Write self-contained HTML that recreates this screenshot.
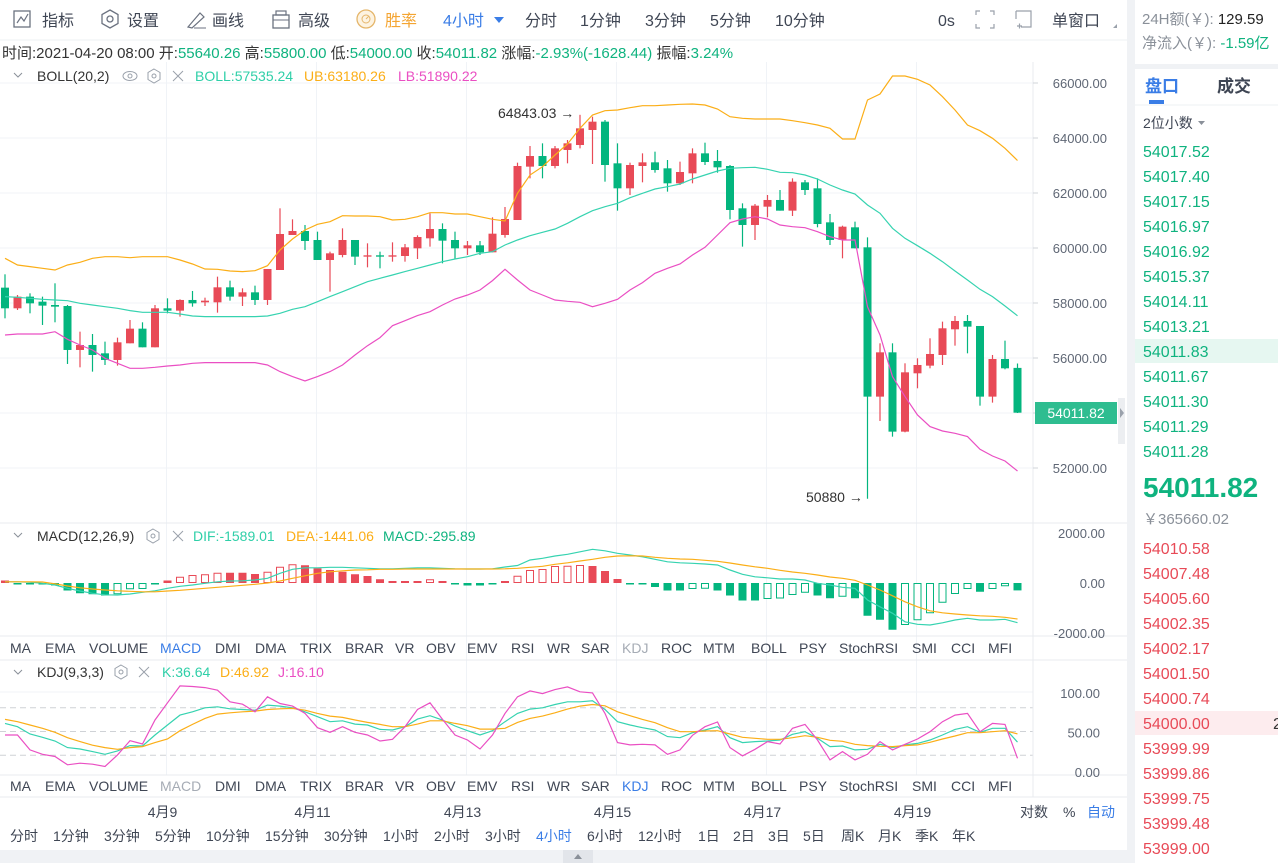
<!DOCTYPE html>
<html><head><meta charset="utf-8">
<style>
html,body{margin:0;padding:0;background:#fff;width:1278px;height:863px;overflow:hidden}
svg{display:block;font-family:"Liberation Sans","Noto Sans CJK SC",sans-serif}
</style></head>
<body>
<svg id="root" width="1278" height="863" viewBox="0 0 1278 863" xmlns="http://www.w3.org/2000/svg">
<rect x="0" y="0" width="1278" height="863" fill="#fff"/>
<!-- toolbar -->
<g font-size="16" fill="#3f4654">
  <g><rect x="14" y="11" width="16" height="16" fill="none" stroke="#6b7280" stroke-width="1.3"/><polyline points="17,23 21,17 24,21 28,14" fill="none" stroke="#6b7280" stroke-width="1.2"/><text x="42" y="26">指标</text></g>
  <g><polygon points="110,10 118,14.5 118,23.5 110,28 102,23.5 102,14.5" fill="none" stroke="#6b7280" stroke-width="1.3"/><circle cx="110" cy="19" r="3" fill="none" stroke="#6b7280" stroke-width="1.3"/><text x="127" y="26">设置</text></g>
  <g><path d="M188 27 L200 13 L204 17 L192 28 Z" fill="none" stroke="#6b7280" stroke-width="1.2"/><line x1="194" y1="28" x2="206" y2="28" stroke="#6b7280"/><text x="212" y="26">画线</text></g>
  <g><rect x="273" y="15" width="16" height="13" fill="none" stroke="#6b7280" stroke-width="1.3"/><rect x="276" y="11" width="10" height="4" fill="none" stroke="#6b7280" stroke-width="1.2"/><line x1="273" y1="20" x2="289" y2="20" stroke="#6b7280"/><text x="298" y="26">高级</text></g>
  <g><circle cx="366" cy="19" r="9" fill="#fdf3e1" stroke="#e5b66b" stroke-width="1.3"/><circle cx="366" cy="19" r="4" fill="none" stroke="#e5b66b"/><line x1="366" y1="19" x2="369" y2="16" stroke="#e5b66b"/><text x="385" y="26" fill="#f4a532">胜率</text></g>
  <g><text x="443" y="26" fill="#3a7de6">4小时</text><polygon points="494,17 504,17 499,23" fill="#3a7de6"/></g>
  <text x="525" y="26">分时</text>
  <text x="580" y="26">1分钟</text>
  <text x="645" y="26">3分钟</text>
  <text x="710" y="26">5分钟</text>
  <text x="775" y="26">10分钟</text>
  <text x="938" y="26">0s</text>
  <g stroke="#9aa1ab" stroke-width="1.2" fill="none"><path d="M976 15v-4h4M990 11h4v4M994 24v4h-4M980 28h-4v-4"/></g>
  <g stroke="#9aa1ab" stroke-width="1.2" fill="none"><path d="M1016 11h15v16h-10M1016 11v8"/><path d="M1017 26h5M1019.5 23.5v5"/></g>
  <g><text x="1052" y="26">单窗口</text><polygon points="1117,24 1117,28 1113,28" fill="#9aa1ab"/></g>
</g>
<line x1="0" y1="40" x2="1127" y2="40" stroke="#eef0f3"/>
<!-- info line -->
<text x="2" y="58" font-size="15" fill="#333">时间:2021-04-20 08:00 开:<tspan fill="#0fb37f">55640.26</tspan> 高:<tspan fill="#0fb37f">55800.00</tspan> 低:<tspan fill="#0fb37f">54000.00</tspan> 收:<tspan fill="#0fb37f">54011.82</tspan> 涨幅:<tspan fill="#0fb37f">-2.93%(-1628.44)</tspan> 振幅:<tspan fill="#0fb37f">3.24%</tspan></text>
<g id="grid"></g>
<g id="main"></g>
<g id="macd"></g>
<g id="kdj"></g>
<g id="axes"></g>
<!-- legends -->
<g font-size="14">
  <polyline points="14,73 18,77 22,73" fill="none" stroke="#8a9099"/>
  <text x="37" y="81" fill="#333">BOLL(20,2)</text>
  <g><ellipse cx="130" cy="76" rx="7" ry="4.5" fill="none" stroke="#9aa1ab"/><circle cx="130" cy="76" r="2" fill="none" stroke="#9aa1ab"/></g>
  <g><polygon points="154,69 160,72.5 160,79.5 154,83 148,79.5 148,72.5" fill="none" stroke="#9aa1ab"/><circle cx="154" cy="76" r="2" fill="none" stroke="#9aa1ab"/></g>
  <path d="M173 71l10 10M183 71l-10 10" stroke="#9aa1ab"/>
  <text x="195" y="81" fill="#2fcfa8">BOLL:57535.24</text>
  <text x="304" y="81" fill="#fbae17">UB:63180.26</text>
  <text x="398" y="81" fill="#ea4fc3">LB:51890.22</text>
</g>
<g font-size="14">
  <polyline points="14,533 18,537 22,533" fill="none" stroke="#8a9099"/>
  <text x="37" y="541" fill="#333">MACD(12,26,9)</text>
  <g><polygon points="153,529 159,532.5 159,539.5 153,543 147,539.5 147,532.5" fill="none" stroke="#9aa1ab"/><circle cx="153" cy="536" r="2" fill="none" stroke="#9aa1ab"/></g>
  <path d="M173 531l10 10M183 531l-10 10" stroke="#9aa1ab"/>
  <text x="193" y="541" fill="#2fcfa8">DIF:-1589.01</text>
  <text x="286" y="541" fill="#fbae17">DEA:-1441.06</text>
  <text x="383" y="541" fill="#0fb37f">MACD:-295.89</text>
</g>
<g font-size="14">
  <polyline points="14,670 18,674 22,670" fill="none" stroke="#8a9099"/>
  <text x="37" y="677" fill="#333">KDJ(9,3,3)</text>
  <g><polygon points="121,665 127,668.5 127,675.5 121,679 115,675.5 115,668.5" fill="none" stroke="#9aa1ab"/><circle cx="121" cy="672" r="2" fill="none" stroke="#9aa1ab"/></g>
  <path d="M139 667l10 10M149 667l-10 10" stroke="#9aa1ab"/>
  <text x="162" y="677" fill="#2fcfa8">K:36.64</text>
  <text x="220" y="677" fill="#fbae17">D:46.92</text>
  <text x="278" y="677" fill="#ea4fc3">J:16.10</text>
</g>
<g id="tabs1" font-size="14" fill="#3f4654"></g>
<g id="tabs2" font-size="14" fill="#3f4654"></g>
<g id="dates" font-size="14" fill="#3f4654"></g>
<g id="periods" font-size="14" fill="#3f4654"></g>
<g font-size="14">
  <text x="1020" y="817" fill="#3f4654">对数</text>
  <text x="1063" y="817" fill="#3f4654">%</text>
  <text x="1087" y="817" fill="#3a7de6">自动</text>
</g>
<rect x="0" y="850" width="1127" height="13" fill="#f0f2f5"/>
<rect x="563" y="850" width="30" height="13" fill="#e2e5ea"/>
<polygon points="574,859 582,859 578,854" fill="#8a9099"/>
<!-- right panel -->
<rect x="1127" y="0" width="8" height="863" fill="#f0f2f5"/>
<g>
  <text x="1142" y="24" font-size="15" fill="#8a9099">24H额(￥): <tspan fill="#222">129.59</tspan></text>
  <text x="1142" y="48" font-size="15" fill="#8a9099">净流入(￥): <tspan fill="#0fb37f">-1.59亿</tspan></text>
  <rect x="1135" y="64" width="143" height="5" fill="#f0f2f5"/>
  <text x="1145" y="92" font-size="17" font-weight="bold" fill="#3a7de6">盘口</text>
  <rect x="1149" y="100" width="15" height="4" fill="#3a7de6"/>
  <text x="1217" y="92" font-size="17" font-weight="bold" fill="#3f4654">成交</text>
  <line x1="1135" y1="105" x2="1278" y2="105" stroke="#eef0f3"/>
  <text x="1143" y="128" font-size="14" fill="#3f4654">2位小数</text>
  <polygon points="1198,121 1205,121 1201.5,125" fill="#8a9099"/>
  <g id="asks" font-size="16" fill="#0fb37f"></g>
  <text x="1143" y="497" font-size="28" font-weight="bold" fill="#0fb37f">54011.82</text>
  <text x="1143" y="524" font-size="15" fill="#8a9099">￥365660.02</text>
  <g id="bids" font-size="16" fill="#e84a57"></g>
</g>
<!-- annotations -->
<text x="498" y="118" font-size="14" fill="#333">64843.03 →</text>
<text x="806" y="502" font-size="14" fill="#333">50880 →</text>
</svg>
<script>
const open=[58558,57807,58231,58049,57928,57891,56292,56473,56170,55928,56534,57067,56389,57807,57722,58110,58025,58025,58570,58231,58388,58110,59200,60473,60618,60291,59564,59746,60291,59685,59734,59685,59709,59988,60352,60691,60291,59988,60097,59843,60473,61018,62958,63345,62982,63564,63745,64291,64594,63079,62170,62982,63115,62897,62352,62715,63442,63164,62982,61443,60837,61503,61746,61358,62388,62170,60933,60291,60752,60025,54595,56206,53322,55443,55722,56110,57043,57346,57164,54595,55964,55640.26];
const close=[57807,58231,57988,57904,57867,56292,56473,56110,55928,56570,57067,56389,57807,57722,58110,57988,58085,58570,58231,58388,58110,59237,60509,60618,60255,59564,59806,60291,59685,59734,59685,59734,60025,60400,60691,60267,59988,60097,59843,60521,61055,62982,63345,62982,63624,63806,64351,64594,63018,62170,63018,63115,62836,62352,62764,63442,63127,62933,61382,60837,61540,61746,61358,62412,62109,60873,60291,60776,59988,54595,56206,53322,55479,55746,56146,57080,57346,57140,54595,55964,55625,54011.82];
const high=[59043,58291,58352,58231,58716,57928,56958,56873,56595,56740,57382,57298,57928,58170,58134,58437,58194,58958,58813,58534,58631,59237,61443,61043,60837,60594,59867,60715,60291,60170,59867,60206,60146,60461,61261,60897,60594,60255,60255,61115,61491,63103,63709,63806,63709,63927,64843.03,64776,64654,63806,63103,63442,63503,63200,63140,63624,63830,63564,63018,61624,61600,61927,62109,62533,62473,62533,61237,60812,60958,60388,56534,56534,55807,55989,56716,57322,57528,57564,57164,56110,56631,55800];
const low=[57443,57746,57625,57201,57298,55783,55661,55504,55746,55722,56534,56389,56389,57625,57504,57867,57891,57649,58085,57891,57928,57928,59200,60473,59928,59564,58413,59661,59382,59297,59261,59503,59503,59600,60049,59443,59600,59746,59746,59843,60376,61018,62533,62533,62897,63079,63624,63055,62412,61358,61927,62388,62739,62049,62291,62352,63018,62739,61043,60049,60291,61115,61358,61164,61927,60752,60109,59625,59988,50880,53710,53140,53298,54898,55625,55746,56449,56170,54267,54377,55589,54000];
const bollUp=[59625,59382,59322,59261,59200,59382,59479,59625,59685,59685,59649,59685,59685,59685,59564,59419,59237,59225,59164,59140,59176,59358,59928,60328,60655,60861,60958,61176,61164,61164,61140,61018,61043,61140,61285,61285,61237,61237,61140,61043,60982,61988,62655,62958,63382,63782,64351,64836,64994,65018,65103,65176,65176,65200,65224,65236,65200,65054,64776,64715,64691,64691,64691,64630,64557,64473,64351,63964,63964,65382,65600,66254,66254,66133,65927,65503,65018,64473,64267,63988,63624,63180.26];
const bollMid=[58231,58207,58170,58134,58110,58085,57988,57928,57867,57807,57722,57661,57661,57661,57601,57528,57504,57504,57504,57504,57504,57528,57625,57770,57867,58049,58231,58412,58594,58776,58897,59019,59140,59261,59382,59503,59600,59685,59806,59867,60110,60291,60449,60570,60691,60897,61140,61358,61503,61624,61830,61988,62146,62230,62327,62509,62655,62800,62897,62921,62933,62861,62751,62739,62655,62509,62291,62109,61964,61564,61261,60715,60352,60085,59806,59503,59164,58837,58497,58231,57891,57535.24];
const bollLow=[56837,56873,56873,56873,56958,56679,56473,56292,55989,55807,55625,55625,55661,55710,55746,55807,55831,55831,55831,55831,55831,55746,55504,55322,55164,55322,55504,55746,56110,56449,56740,57176,57358,57540,57685,57928,58146,58291,58473,58813,59225,58837,58473,58291,58110,58061,58025,57867,57988,58134,58473,58740,59079,59261,59419,59746,60025,60473,60921,61055,61140,61055,60837,60776,60740,60594,60412,60291,60291,57867,56837,55322,54595,53928,53504,53346,53261,53140,52680,52437,52255,51890.22];
const macdHist=[100,-50,-60,-60,-100,-300,-410,-450,-500,-450,-250,-240,-50,100,250,320,350,410,410,410,360,450,650,750,710,590,520,450,350,280,150,80,80,80,150,80,-60,-100,-100,-60,80,290,520,560,680,690,720,680,480,160,-40,-60,-160,-300,-300,-240,-230,-300,-500,-700,-700,-640,-620,-480,-390,-500,-610,-550,-610,-1310,-1470,-1870,-1680,-1490,-1210,-790,-440,-240,-350,-240,-130,-295.89];
const macdDif=[50,50,30,-10,-80,-210,-320,-410,-470,-480,-440,-370,-310,-210,-130,-80,-10,50,80,90,120,190,390,550,610,610,630,630,610,590,570,570,590,610,610,590,570,560,560,570,640,700,920,990,1080,1150,1250,1350,1290,1190,1120,1050,950,850,810,790,760,720,520,350,250,210,160,160,120,-10,-80,-170,-210,-680,-950,-1210,-1550,-1650,-1680,-1590,-1480,-1410,-1480,-1480,-1450,-1589.01];
const macdDea=[50,50,50,40,-30,-120,-190,-240,-280,-310,-330,-350,-350,-320,-290,-250,-210,-170,-130,-90,-50,0,80,190,290,390,450,490,520,530,550,550,560,560,560,560,560,560,560,560,570,590,630,670,750,810,880,950,1030,1080,1090,1080,1030,990,960,950,910,870,800,720,650,590,510,440,390,320,240,190,110,-80,-280,-510,-750,-950,-1110,-1190,-1240,-1280,-1310,-1330,-1370,-1441.06];
const kdjK=[60.3,56.1,46.8,42.6,38,29.6,27.9,24.6,21.2,25.4,32.1,31.7,45.6,58.2,70.8,75,80,81.3,78.7,77.9,77,83.4,82.1,80,75,68.7,62.4,63.6,59.4,58.2,52.7,51.9,56.1,65.7,70,64.5,56.9,51,45.6,51,62.4,72.9,78.3,80,84.2,87.6,87.6,88.8,77.9,62.4,58.2,54.8,51.9,43.5,42.2,48.5,51.9,56.1,42.2,35.9,37.2,38,39.3,46.4,49.8,41.4,30.9,31.7,26.7,27.5,33.8,29.6,33,35,39.3,45.6,52.7,56.1,49,54,54,36.64];
const kdjD=[65.3,62.4,58.2,54,49,42.2,37.2,32.6,29.6,27.5,29.6,30.9,35.9,40.5,51,59,66.6,72,73.7,75,75.8,77.9,78.7,79.2,77,72.9,69.5,67.8,64.5,61.5,59,56.1,56.1,59.4,63.6,63.6,60.3,57.3,53.1,53.1,54,61.5,66.6,69.5,73.7,78.3,82.1,84.2,82.5,75,70,65.3,61.1,54.8,49.8,49.8,50.6,51,46.8,42.6,41.4,40.1,40.1,42.2,44.7,42.6,38.8,37.6,33.8,32.1,31.3,30.9,32.1,33,36.3,40.5,44.3,48.5,48.5,49.8,51,46.92];
const kdjJ=[45.6,45.6,26.7,21.2,18.3,7.8,9.9,8.6,5.7,20.4,38.4,34.2,64.5,86.3,107.7,106.9,105.6,102.3,87.6,84.6,75,93.9,85.5,82.1,72.9,54.8,49,56.1,49,45.6,38,40.1,56.1,77.9,86.3,65.3,45.6,39.3,27.9,45.6,72.9,93.9,101.4,98,103,106.5,100.2,98.9,72.9,35.9,33,33.8,33,21.2,26.7,45.2,56.1,62,29.6,19.1,27.5,37.2,34.2,54,59,39.3,14.1,24.6,14.1,21.2,37.2,26.7,33.8,40.5,49.8,62.4,70.8,72.9,49.8,60.3,59,16.1];
const priceTicks=[66000,64000,62000,60000,58000,56000,54000,52000];
const macdTicks=[2000,0,-2000];
const kdjTicks=[100,50,0];
const kdjLevels=[80,50,20];
const dateLabels=["4月9","4月11","4月13","4月15","4月17","4月19"];
const dateIndex=[13,25,37,49,61,73];
const askPrices=["54017.52","54017.40","54017.15","54016.97","54016.92","54015.37","54014.11","54013.21","54011.83","54011.67","54011.30","54011.29","54011.28"];
const bidPrices=["54010.58","54007.48","54005.60","54002.35","54002.17","54001.50","54000.74","54000.00","53999.99","53999.86","53999.75","53999.48","53999.00"];
const tabNames=["MA","EMA","VOLUME","MACD","DMI","DMA","TRIX","BRAR","VR","OBV","EMV","RSI","WR","SAR","KDJ","ROC","MTM","BOLL","PSY","StochRSI","SMI","CCI","MFI"];
const periodNames=["分时","1分钟","3分钟","5分钟","10分钟","15分钟","30分钟","1小时","2小时","3小时","4小时","6小时","12小时","1日","2日","3日","5日","周K","月K","季K","年K"];

const NS="http://www.w3.org/2000/svg";
const UP="#e84a57", DN="#03b57e", TEAL="#36d3b0", ORG="#fbae17", PINK="#ea4fc3";
function mk(tag,attrs,parent){const e=document.createElementNS(NS,tag);for(const k in attrs)e.setAttribute(k,attrs[k]);parent.appendChild(e);return e;}
const xC=i=>5+12.5*i;
const yP=p=>83+(66000-p)*0.0275;
const yM=v=>583-v*0.025;
const yK=v=>771-v*0.79;

const grid=document.getElementById('grid');
const axes=document.getElementById('axes');
priceTicks.forEach(p=>{
  const l=mk('line',{x1:0,x2:1033,y1:yP(p),y2:yP(p),stroke:'#f0f3f7'},grid);
  
  
  const t=mk('text',{x:1107,y:yP(p)+5,'text-anchor':'end','font-size':13,fill:'#5f6775'},axes);
  t.textContent=p.toFixed(2);
  
  
});
macdTicks.forEach(v=>{
  const t=mk('text',{x:1105,y:yM(v)+5,'text-anchor':'end','font-size':13,fill:'#5f6775'},axes);
  t.textContent=v.toFixed(2);
  
  
});
kdjTicks.forEach(v=>{
  const t=mk('text',{x:1100,y:yK(v)+6,'text-anchor':'end','font-size':13,fill:'#5f6775'},axes);
  t.textContent=v.toFixed(2);
  
  
});
kdjLevels.forEach(v=>{
  const l=mk('line',{x1:0,x2:1033,y1:yK(v),y2:yK(v),stroke:'#cfd2d6','stroke-dasharray':'6,4'},grid);
  
  
});
mk('line',{x1:0,x2:1033,y1:yK(100),y2:yK(100),stroke:'#f0f3f7'},grid);
const dates=document.getElementById('dates');
dateIndex.forEach((di,k)=>{
  const x=xC(di)-1;
  const l=mk('line',{x1:x,x2:x,y1:62,y2:775,stroke:'#f0f3f7'},grid);
  
  
  const t=mk('text',{x:x-4,y:817,'text-anchor':'middle'},dates);
  t.textContent=dateLabels[k];
  
  
});
[523,636,660,775,797].forEach(y=>mk('line',{x1:0,x2:1127,y1:y,y2:y,stroke:'#e8ebef'},grid));
mk('line',{x1:1033,x2:1033,y1:62,y2:797,stroke:'#e8ebef'},grid);
priceTicks.forEach(p=>mk('line',{x1:1033,x2:1038,y1:yP(p),y2:yP(p),stroke:'#d0d4da'},grid));

const main=document.getElementById('main');
for(let i=0;i<open.length;i++){
  const up=close[i]>=open[i], c=up?UP:DN, x=xC(i);
  const w=mk('line',{x1:x,x2:x,y1:yP(high[i]),y2:yP(low[i]),stroke:c,'stroke-width':1.2},main);
  
  
  const t=Math.min(yP(open[i]),yP(close[i])), h=Math.max(1,Math.abs(yP(open[i])-yP(close[i])));
  const b=mk('rect',{x:x-4,y:t,width:8,height:h,fill:c},main);
  
  
}
function line(arr,yf,color,parent,name){
  const pts=arr.map((v,i)=>xC(i)+','+yf(v).toFixed(1)).join(' ');
  const p=mk('polyline',{points:pts,fill:'none',stroke:color,'stroke-width':1.2},parent);
  
  
}
line(bollUp,yP,ORG,main,'boll-upper-band');
line(bollMid,yP,TEAL,main,'boll-middle-band');
line(bollLow,yP,PINK,main,'boll-lower-band');
const tag=mk('rect',{x:1035,y:402,width:82,height:22,fill:'#2ebd90'},axes);


const tt=mk('text',{x:1076,y:418,'text-anchor':'middle','font-size':14,fill:'#fff'},axes);
tt.textContent='54011.82';
mk('rect',{x:1118,y:398,width:7,height:46,fill:'#eceef1'},axes);
mk('polygon',{points:'1120,408 1124,413 1120,418',fill:'#9aa1ab'},axes);

const macd=document.getElementById('macd');
for(let i=0;i<macdHist.length;i++){
  const v=macdHist[i], prev=i>0?macdHist[i-1]:v, c=v>=0?UP:DN, x=xC(i);
  const t=Math.min(yM(0),yM(v)), h=Math.max(1.5,Math.abs(yM(v)-yM(0)));
  const hollow=i>0&&v>prev&&h>3;
  const r=hollow?mk('rect',{x:x-3.5,y:t+0.5,width:7,height:h-1,fill:'#fff',stroke:c,'stroke-width':1},macd)
               :mk('rect',{x:x-4,y:t,width:8,height:h,fill:c},macd);
  
  
}
line(macdDif,yM,TEAL,macd,'macd-dif-line');
line(macdDea,yM,ORG,macd,'macd-dea-line');

const kdj=document.getElementById('kdj');
line(kdjK,yK,TEAL,kdj,'kdj-k-line');
line(kdjD,yK,ORG,kdj,'kdj-d-line');
line(kdjJ,yK,PINK,kdj,'kdj-j-line');

const tabX=[10,45,89,160,215,255,300,345,395,426,467,511,547,581,622,661,703,751,799,839,912,951,988];
function tabs(id,y,active,dim){
  const g=document.getElementById(id);
  tabNames.forEach((n,k)=>{
    const t=mk('text',{x:tabX[k],y:y},g);
    if(n===active)t.setAttribute('fill','#3a7de6');
    if(n===dim)t.setAttribute('fill','#a6acb5');
    t.textContent=n;
    
    
  });
}
tabs('tabs1',653,'MACD','KDJ');
tabs('tabs2',791,'KDJ','MACD');
const perX=[10,53,104,155,206,265,324,383,434,485,536,587,638,698,733,768,803,841,878,915,952];
const per=document.getElementById('periods');
periodNames.forEach((n,k)=>{
  const t=mk('text',{x:perX[k],y:841},per);
  if(n==='4小时')t.setAttribute('fill','#3a7de6');
  t.textContent=n;
  
  
});
const asks=document.getElementById('asks');
askPrices.forEach((p,k)=>{
  const y=151+25*k;
  if(p==='54011.83'){mk('rect',{x:1135,y:y-12,width:143,height:24,fill:'#e6f7f1'},asks);}
  const t=mk('text',{x:1143,y:y+6},asks);
  t.textContent=p;
  
  
});
const bids=document.getElementById('bids');
bidPrices.forEach((p,k)=>{
  const y=548+25*k;
  if(p==='54000.00'){mk('rect',{x:1135,y:y-12,width:143,height:24,fill:'#fdecee'},bids);const z=mk('text',{x:1273,y:y+6,fill:'#333'},bids);z.textContent='2';}
  const t=mk('text',{x:1143,y:y+6},bids);
  t.textContent=p;
  
  
});
</script>
</body></html>
